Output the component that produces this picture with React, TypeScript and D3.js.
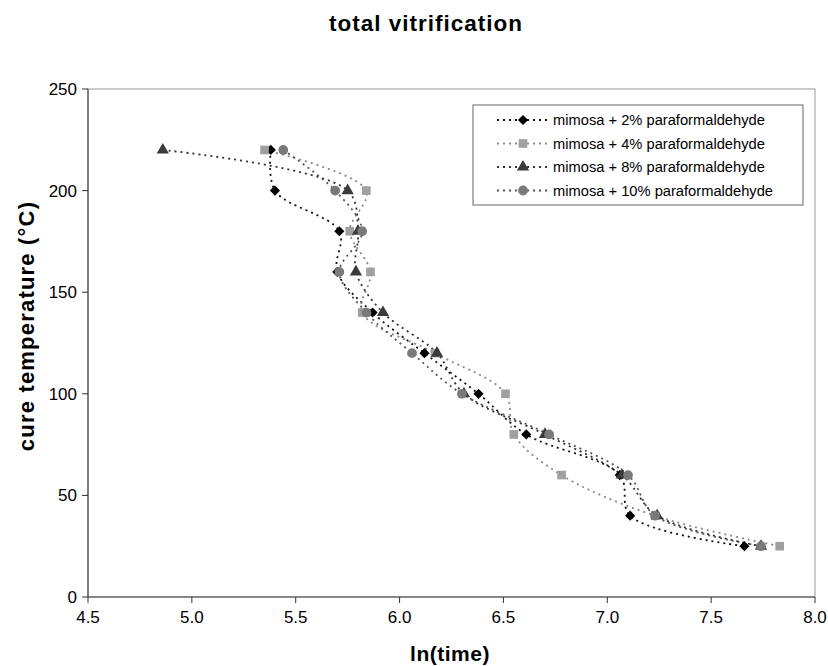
import React from 'react';
import * as d3 from 'd3';

// cure temperatures (°C), shared by all series
const temps = [220, 200, 180, 160, 140, 120, 100, 80, 60, 40, 25];

// ln(time)
const pf2 = [5.38, 5.40, 5.71, 5.70, 5.87, 6.12, 6.38, 6.61, 7.06, 7.11, 7.66];
const pf4 = [5.35, 5.84, 5.76, 5.86, 5.82, 6.17, 6.51, 6.55, 6.78, 7.23, 7.83];
const pf8 = [4.86, 5.75, 5.80, 5.79, 5.92, 6.18, 6.31, 6.70, 7.07, 7.24, 7.74];
const pf10 = [5.44, 5.69, 5.82, 5.71, 5.84, 6.06, 6.30, 6.72, 7.10, 7.23, 7.74];

const seriesNames = [
  'mimosa + 2% paraformaldehyde',
  'mimosa + 4% paraformaldehyde',
  'mimosa + 8% paraformaldehyde',
  'mimosa + 10% paraformaldehyde',
];

const xTicks = [4.5, 5.0, 5.5, 6.0, 6.5, 7.0, 7.5, 8.0];
const yTicks = [0, 50, 100, 150, 200, 250];

const FONT = 'Arial, "Liberation Sans", sans-serif';

// diamond = square turned 45°
const styles = [
  { marker: d3.symbolSquare, size: 52, rot: 45, fill: '#000', line: '#111' },
  { marker: d3.symbolSquare, size: 75, rot: 0, fill: '#a0a0a0', line: '#8a8a8a' },
  { marker: d3.symbolTriangle, size: 65, rot: 0, fill: '#3a3a3a', line: '#333' },
  { marker: d3.symbolCircle, size: 75, rot: 0, fill: '#7a7a7a', line: '#555' },
];

const App = () => {
  const width = 828;
  const height = 666;
  const margin = { left: 88, right: 13, top: 89, bottom: 69 };

  const x = d3.scaleLinear().domain([4.5, 8.0]).range([margin.left, width - margin.right]);
  const y = d3.scaleLinear().domain([0, 250]).range([height - margin.bottom, margin.top]);

  const all = [pf2, pf4, pf8, pf10];
  const line = d3
    .line<number>()
    .x((d) => x(d))
    .y((_, i) => y(temps[i]))
    .curve(d3.curveCatmullRom.alpha(0.5));

  const marker = (k: number) => d3.symbol().type(styles[k].marker).size(styles[k].size)() || '';

  const lx = 473, ly = 105, lw = 330, lh = 100;

  return (
    <div style={{ position: 'absolute', left: 0, top: 0 }}>
      <svg width={width} height={height} style={{ display: 'block', background: '#fff' }}>
        <text x={426} y={31} textAnchor="middle" fontFamily={FONT} fontWeight="bold" fontSize={22.5} letterSpacing={1}>
          total vitrification
        </text>

        {/* plot frame */}
        <rect
          x={margin.left}
          y={margin.top}
          width={width - margin.left - margin.right}
          height={height - margin.top - margin.bottom}
          fill="none"
          stroke="#999"
          strokeWidth={1}
        />
        <line x1={margin.left} x2={margin.left} y1={margin.top} y2={y(0)} stroke="#333" />
        <line x1={margin.left} x2={width - margin.right} y1={y(0)} y2={y(0)} stroke="#444" />

        {yTicks.map((t) => (
          <g key={t}>
            <line x1={margin.left - 6} x2={margin.left} y1={y(t)} y2={y(t)} stroke="#333" />
            <text x={77} y={y(t)} dy="0.35em" textAnchor="end" fontFamily={FONT} fontSize={17}>
              {t}
            </text>
          </g>
        ))}
        {xTicks.map((t) => (
          <g key={t}>
            <line x1={x(t)} x2={x(t)} y1={y(0)} y2={y(0) + 6} stroke="#333" />
            <text x={x(t)} y={y(0) + 26} textAnchor="middle" fontFamily={FONT} fontSize={17}>
              {t.toFixed(1)}
            </text>
          </g>
        ))}

        <text
          transform={`translate(34, 326) rotate(-90)`}
          textAnchor="middle"
          fontFamily={FONT}
          fontWeight="bold"
          fontSize={22}
          letterSpacing={1.2}
        >
          cure temperature (°C)
        </text>
        <text x={450} y={661} textAnchor="middle" fontFamily={FONT} fontWeight="bold" fontSize={21} letterSpacing={0.5}>
          ln(time)
        </text>

        {all.map((s, k) => (
          <path
            key={k}
            d={line(s) || ''}
            fill="none"
            stroke={styles[k].line}
            strokeWidth={1.8}
            strokeDasharray="2,4"
          />
        ))}
        {all.map((s, k) =>
          s.map((v, i) => (
            <path
              key={`${k}-${i}`}
              transform={`translate(${x(v)},${y(temps[i])}) rotate(${styles[k].rot})`}
              d={marker(k)}
              fill={styles[k].fill}
            />
          ))
        )}

        {/* legend */}
        <rect x={lx} y={ly} width={lw} height={lh} fill="#fff" stroke="#666" />
        {seriesNames.map((name, k) => {
          const cy = ly + 15 + k * 23.5;
          return (
            <g key={name}>
              <line
                x1={lx + 24}
                x2={lx + 76}
                y1={cy}
                y2={cy}
                stroke={styles[k].line}
                strokeWidth={1.8}
                strokeDasharray="2,4"
              />
              <path
                transform={`translate(${lx + 50},${cy}) rotate(${styles[k].rot})`}
                d={marker(k)}
                fill={styles[k].fill}
              />
              <text x={lx + 80} y={cy} dy="0.35em" fontFamily={FONT} fontSize={14.7}>
                {name}
              </text>
            </g>
          );
        })}
      </svg>
    </div>
  );
};

export default App;
